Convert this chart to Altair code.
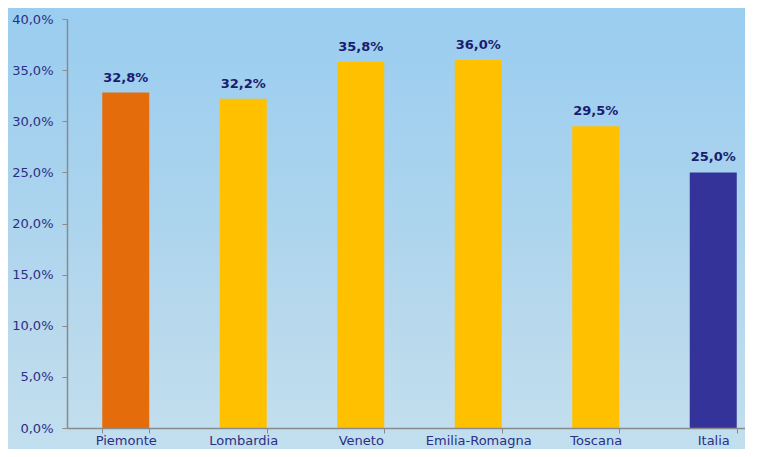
import altair as alt
import pandas as pd

regions = ["Piemonte", "Lombardia", "Veneto", "Emilia-Romagna", "Toscana", "Italia"]
values = [32.8, 32.2, 35.8, 36.0, 29.5, 25.0]
labels = ["32,8%", "32,2%", "35,8%", "36,0%", "29,5%", "25,0%"]
colors = ["#E46C0A", "#FFC000", "#FFC000", "#FFC000", "#FFC000", "#333399"]
y_ticks = [0, 5, 10, 15, 20, 25, 30, 35, 40]

df = pd.DataFrame({"regione": regions, "valore": values, "etichetta": labels, "colore": colors})

W, H = 678, 409

bg = alt.Chart(pd.DataFrame({"a": [0]})).mark_rect(
    color=alt.Gradient(
        gradient="linear", x1=0, y1=0, x2=0, y2=1,
        stops=[alt.GradientStop(color="#9ACDF0", offset=0),
               alt.GradientStop(color="#A9D3EE", offset=0.4),
               alt.GradientStop(color="#BBDAEC", offset=0.75),
               alt.GradientStop(color="#C3E0EF", offset=1)]
    )
).encode(x=alt.value(-60), x2=alt.value(W + 20), y=alt.value(-13), y2=alt.value(H + 40))

x_enc = alt.X("regione:N", sort=regions, title=None,
              scale=alt.Scale(range=[0, 705], paddingInner=0.6, paddingOuter=0.3),
              axis=alt.Axis(labelAngle=0, tickBand="extent", labelFont="DejaVu Sans",
                            labelFontSize=13, labelColor="#2B2F85", domainColor="#8A8A8A",
                            tickColor="#8A8A8A", tickSize=5, labelPadding=1, domainWidth=1.5,
                            zindex=1))
y_enc = alt.Y("valore:Q", title=None,
              scale=alt.Scale(domain=[0, 40], nice=False),
              axis=alt.Axis(values=y_ticks, grid=False, tickSize=5, tickColor="#8A8A8A",
                            domainColor="#8A8A8A", domainWidth=1.5, labelFont="DejaVu Sans",
                            labelFontSize=13, labelColor="#2B2F85", labelPadding=9,
                            labelExpr="replace(format(datum.value, '.1f'), '.', ',') + '%'",
                            zindex=1))

bars = alt.Chart(df).mark_bar(size=47).encode(
    x=x_enc, y=y_enc, color=alt.Color("colore:N", scale=None)
)
text = alt.Chart(df).mark_text(dy=-8, fontWeight="bold", font="DejaVu Sans", fontSize=13,
                               color="#1C1C6E", baseline="bottom").encode(
    x=alt.X("regione:N", sort=regions), y="valore:Q", text="etichetta:N"
)

chart = alt.layer(bg, bars, text).properties(
    width=W, height=H,
    autosize=alt.AutoSizeParams(type="none"),
    padding={"left": 59, "top": 11, "right": 0, "bottom": 21},
    background="#B5D9EF",
).configure_view(stroke=None)

chart.save("out.html", embed_options={"renderer": "svg", "actions": False})
